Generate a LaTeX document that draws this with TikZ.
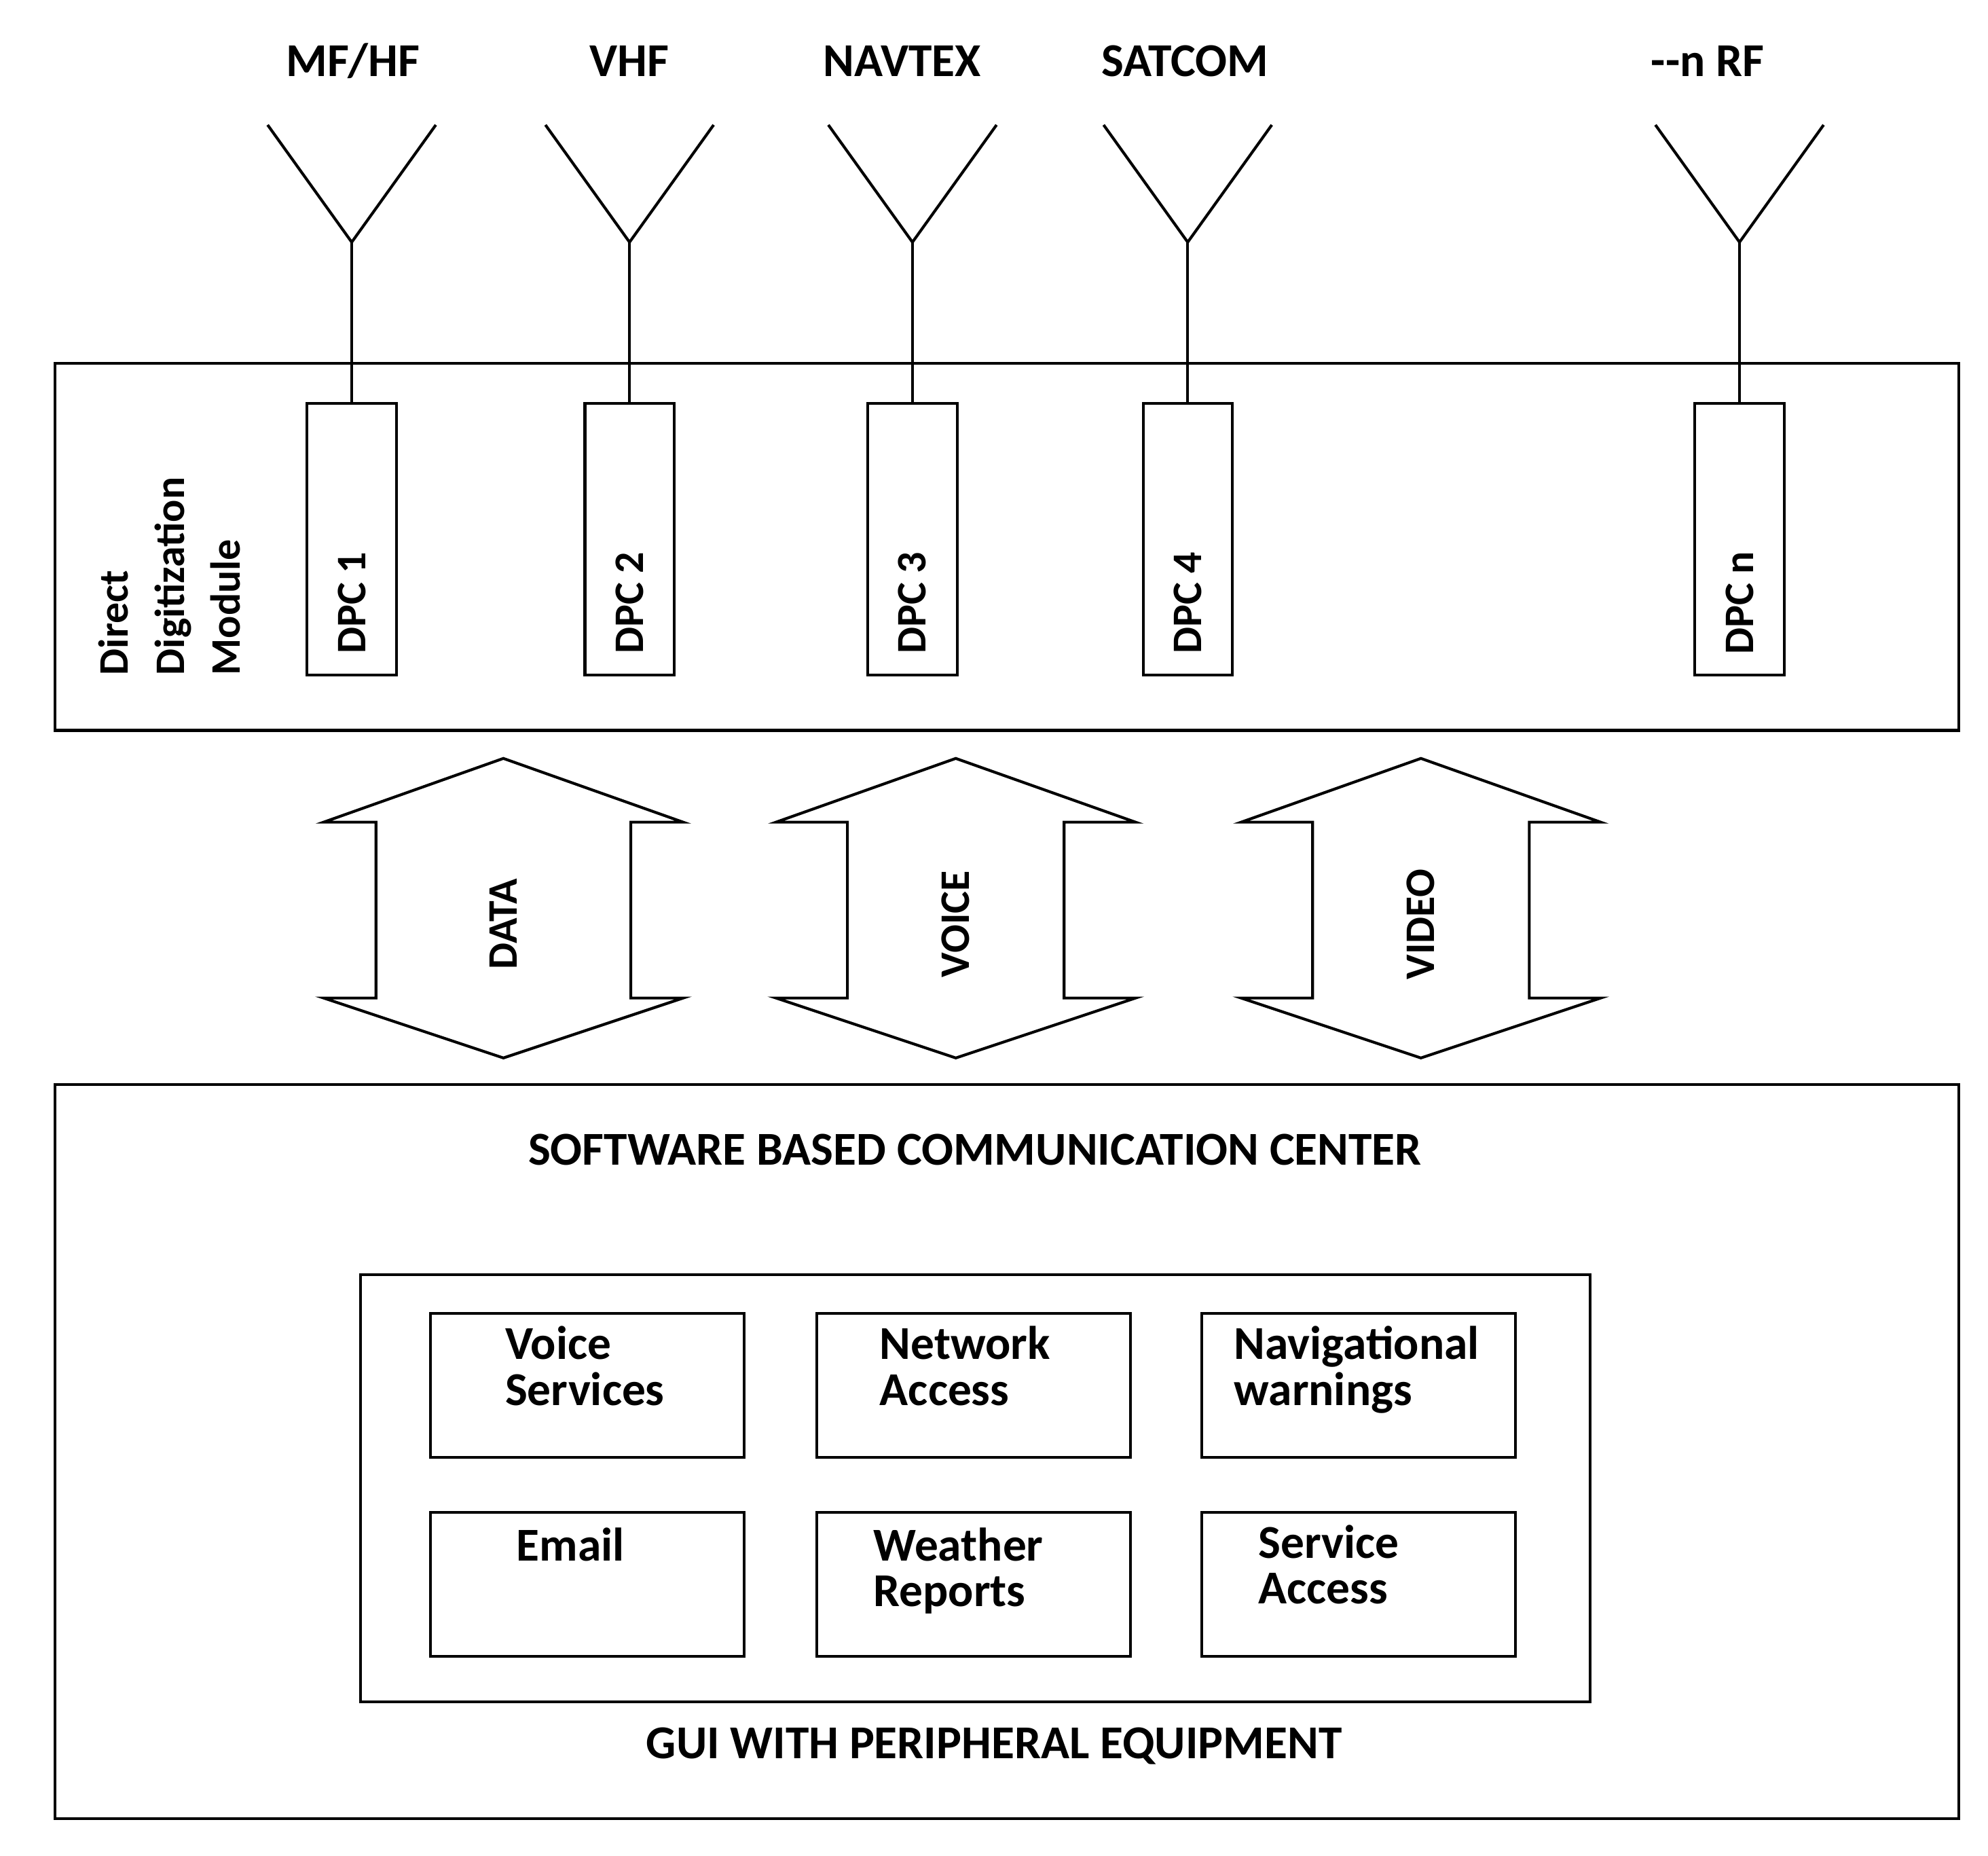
\documentclass[tikz,border=0pt]{standalone}
\usepackage{fontspec}
\setmainfont{Carlito}
\begin{document}
\begin{tikzpicture}[x=1pt,y=-1pt,line width=2.2pt,
  big/.style={font=\fontsize{37}{40}\selectfont\bfseries},
  dpc/.style={draw,minimum width=70pt,minimum height=213pt,inner sep=0pt},
  svc/.style={draw,minimum width=246pt,minimum height=113pt,inner sep=0pt},
  lab/.style={font=\fontsize{37}{36}\selectfont\bfseries,align=left}]
\useasboundingbox (0,0) rectangle (1560,1456);
\node[draw,minimum width=1494pt,minimum height=288pt,inner sep=0pt] (dd) at (790,429) {};
\node[draw,minimum width=1494pt,minimum height=576pt,inner sep=0pt] (sw) at (790,1139) {};
\node[rotate=90,align=left,lab,anchor=center,font=\fontsize{33}{44}\selectfont\bfseries] (ddl) at (133,452) {Direct\\Digitization\\Module};
\foreach \n/\x/\t/\lx in {1/276/{MF/HF}/277, 2/494/VHF/494, 3/716/NAVTEX/708, 4/932/SATCOM/930, n/1365/{-{}-n RF}/1340}{
  \node[dpc] (d\n) at (\x,423) {};
  \node[rotate=90,big,font=\fontsize{33}{36}\selectfont\bfseries] at (\x,473) {DPC \n};
  \coordinate (ap\n) at (\x,190);
  \coordinate (l\n) at (\x-66,98);
  \coordinate (r\n) at (\x+66,98);
  \draw (l\n) -- (ap\n) -- (r\n);
  \draw (ap\n) -- (d\n.north);
  \node[big] at (\lx,48) {\t};
}
\foreach \c/\t/\hw/\sw in {395/DATA/141/100, 750/VOICE/141/85, 1115/VIDEO/141/85}{
  \draw (\c,595) -- (\c+\hw,645) -- (\c+\sw,645) -- (\c+\sw,783) -- (\c+\hw,783) -- (\c,830)
   -- (\c-\hw,783) -- (\c-\sw,783) -- (\c-\sw,645) -- (\c-\hw,645) -- cycle;
  \node[rotate=90,big,font=\fontsize{33}{36}\selectfont\bfseries] at (\c,725) {\t};
}
\node[big] at (765,902) {SOFTWARE BASED COMMUNICATION CENTER};
\node[draw,minimum width=965pt,minimum height=335pt,inner sep=0pt] (gui) at (765.5,1167.5) {};
\node[big] at (780,1370) {GUI WITH PERIPHERAL EQUIPMENT};
\node[svc] (s1) at (461,1087) {};
\node[svc] (s2) at (764,1087) {};
\node[svc] (s3) at (1066,1087) {};
\node[svc] (s4) at (461,1243) {};
\node[svc] (s5) at (764,1243) {};
\node[svc] (s6) at (1066,1243) {};
\node[lab,anchor=north west] at (392,1036) {Voice\\Services};
\node[lab,anchor=north west] at (686,1036) {Network\\Access};
\node[lab,anchor=north west] at (964,1036) {Navigational\\warnings};
\node[lab,anchor=north west] at (401,1194) {Email};
\node[lab,anchor=north west] at (681,1194) {Weather\\Reports};
\node[lab,anchor=north west] at (983,1192) {Service\\Access};
\end{tikzpicture}
\end{document}
